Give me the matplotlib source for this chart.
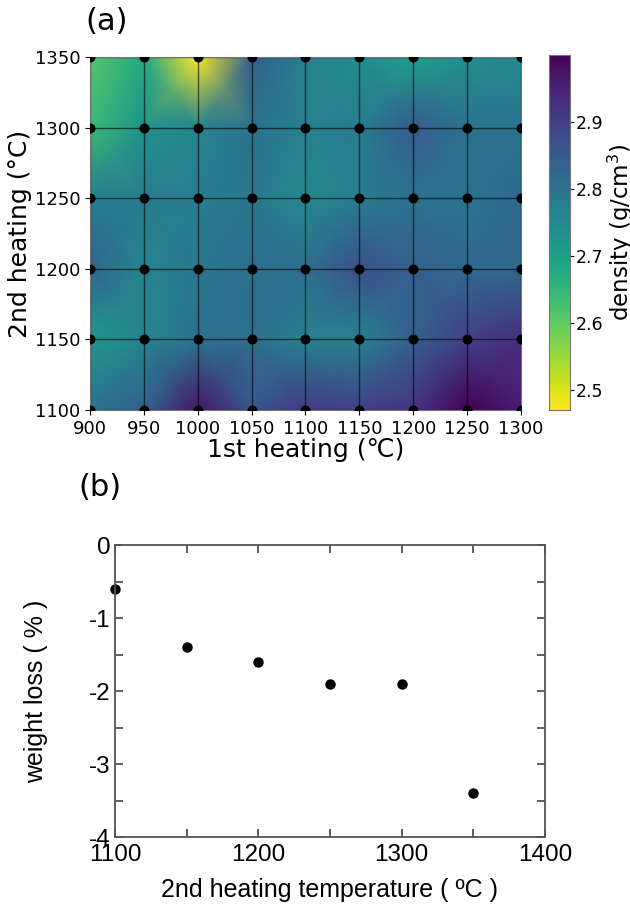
import numpy as np
import matplotlib.pyplot as plt
import matplotlib as mpl

# (a) density map: 1st heating (x) vs 2nd heating (y)
first_heat = [900, 950, 1000, 1050, 1100, 1150, 1200, 1250, 1300]
second_heat = [1100, 1150, 1200, 1250, 1300, 1350]
density = [
    [2.80, 2.84, 2.97, 2.86, 2.91, 2.90, 2.92, 3.00, 2.96],  # 1100
    [2.72, 2.76, 2.80, 2.81, 2.77, 2.77, 2.84, 2.90, 2.93],  # 1150
    [2.83, 2.76, 2.79, 2.81, 2.81, 2.87, 2.84, 2.82, 2.82],  # 1200
    [2.78, 2.78, 2.78, 2.79, 2.75, 2.78, 2.80, 2.80, 2.82],  # 1250
    [2.64, 2.73, 2.76, 2.80, 2.77, 2.78, 2.85, 2.80, 2.80],  # 1300
    [2.61, 2.68, 2.47, 2.84, 2.77, 2.74, 2.70, 2.74, 2.75],  # 1350
]

# (b) weight loss vs 2nd heating temperature
temp_b = [1100, 1150, 1200, 1250, 1300, 1350]
weight_loss = [-0.6, -1.4, -1.6, -1.9, -1.9, -3.4]

fig = plt.figure(figsize=(6.3, 9.11), dpi=100)

ax = fig.add_axes([0.1429, 0.5499, 0.684, 0.3875])
cax = fig.add_axes([0.8714, 0.5499, 0.033, 0.3897])

X, Y = np.meshgrid(first_heat, second_heat)
Z = np.array(density)
mesh = ax.pcolormesh(X, Y, Z, shading='gouraud', cmap='viridis_r',
                     vmin=Z.min(), vmax=Z.max())
for xv in first_heat:
    ax.axvline(xv, color='k', lw=1, alpha=0.6)
for yv in second_heat:
    ax.axhline(yv, color='k', lw=1, alpha=0.6)
ax.scatter(X.ravel(), Y.ravel(), s=38, color='k', zorder=3)
ax.set_xlim(900, 1300)
ax.set_ylim(1100, 1350)
ax.set_xticks(first_heat)
ax.set_yticks(second_heat)
ax.tick_params(labelsize=13)
ax.set_xlabel('1st heating (℃)', fontsize=18, labelpad=0)
ax.set_ylabel('2nd heating (°C)', fontsize=18, labelpad=2)
for s in ax.spines.values():
    s.set_color('#777777')
ax.text(-0.01, 1.06, '(a)', transform=ax.transAxes, fontsize=22, ha='left', va='bottom')

cb = fig.colorbar(mesh, cax=cax)
cb.set_ticks([2.5, 2.6, 2.7, 2.8, 2.9])
cb.ax.tick_params(labelsize=12.5, length=3, pad=1.5)
cb.set_label('density (g/cm$^3$)', fontsize=16.5)
cb.ax.yaxis.set_label_coords(2.72, 0.5)
cb.outline.set_edgecolor('#777777')

# (b)
bx = fig.add_axes([0.1825, 0.0812, 0.6825, 0.3205])
bx.plot(temp_b, weight_loss, 'o', color='k', ms=6.5, clip_on=False)
bx.set_xlim(1100, 1400)
bx.set_ylim(-4, 0)
bx.set_xticks([1100, 1200, 1300, 1400])
bx.set_xticks([1150, 1250, 1350], minor=True)
bx.set_yticks([0, -1, -2, -3, -4])
bx.set_yticks([-0.5, -1.5, -2.5, -3.5], minor=True)
bx.set_yticklabels(['0', '-1', '-2', '-3', '-4'], family='Liberation Sans', fontsize=17.5)
bx.set_xticklabels(['1100', '1200', '1300', '1400'], family='Liberation Sans', fontsize=17.5)
bx.tick_params(which='both', direction='in', top=True, right=True, length=6, width=1.2,
               color='#444444')
bx.tick_params(axis='y', pad=3)
bx.tick_params(axis='x', pad=5)
for s in bx.spines.values():
    s.set_color('#555555')
    s.set_linewidth(1.3)
bx.set_xlabel('2nd heating temperature ( ºC )', family='Liberation Sans', fontsize=18)
bx.xaxis.set_label_coords(0.5, -0.14)
bx.xaxis.label.set_va('top')
bx.set_ylabel('weight loss ( % )', family='Liberation Sans', fontsize=18)
bx.yaxis.set_label_coords(-0.155, 0.5)
fig.text(78 / 630, 1 - 487 / 911, '(b)', fontsize=22, ha='left', va='center')

fig.savefig('out.png', dpi=100)
